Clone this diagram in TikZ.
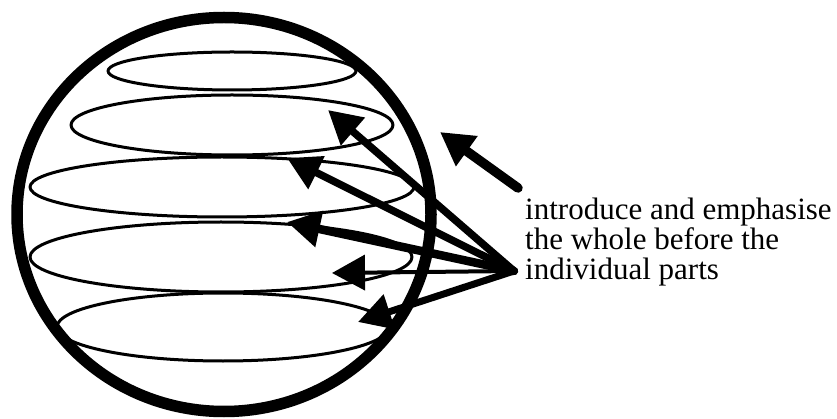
\documentclass[tikz,border=0pt]{standalone}
\usepackage{fontspec}
\setmainfont{Liberation Serif}
\usetikzlibrary{arrows.meta}
\begin{document}
\begin{tikzpicture}[x=1pt, y=-1pt, line cap=round, line join=round]
\def\ringw{11.5pt}
\def\bandw{3pt}
\providecommand{\globeInk}{black}
\tikzset{
  band/.style={draw=\globeInk, line width=\bandw},
  pointer/.style={draw=\globeInk, -{Triangle[length=33pt, width=35pt]}},
}
% Page frame
\useasboundingbox (0,0) rectangle (837,419);
% Outer globe
\draw[draw=\globeInk, line width=\ringw] (224,214.5) ellipse [x radius=207pt, y radius=197pt];
% Horizontal bands
\draw[band] (232,71)  ellipse [x radius=124pt, y radius=19pt];
\draw[band] (232,125) ellipse [x radius=161pt, y radius=30pt];
\draw[band] (222,187) ellipse [x radius=192pt, y radius=30pt];
\draw[band] (221,257) ellipse [x radius=191pt, y radius=35pt];
\draw[band] (223,327) ellipse [x radius=166pt, y radius=34pt];
% Arrow ends
\coordinate (hub)  at (514,271);
\coordinate (tipA) at (328,110);
\coordinate (tipB) at (287,158);
\coordinate (tipC) at (287,222);
\coordinate (tipD) at (332,273);
\coordinate (tipE) at (358,322);
\coordinate (tail) at (518,188);
\coordinate (tipF) at (440,132);
% Arrows into the bands
\draw[pointer, line width=7.5pt] (hub) -- (tipA);
\draw[pointer, line width=7.5pt] (hub) -- (tipB);
\draw[pointer, line width=8.5pt] (hub) -- (tipC);
\draw[pointer, line width=4pt] (hub) -- (tipD);
\draw[pointer, line width=7pt] (hub) -- (tipE);
% Arrow towards the whole
\draw[pointer, line width=9.5pt] (tail) -- (tipF);
% Caption
\node (caption) [anchor=north west, align=left, inner sep=0pt,
  font=\fontsize{31}{30}\selectfont] at (525,198)
  {introduce and emphasise\\the whole before the\\individual parts};
\end{tikzpicture}
\end{document}
